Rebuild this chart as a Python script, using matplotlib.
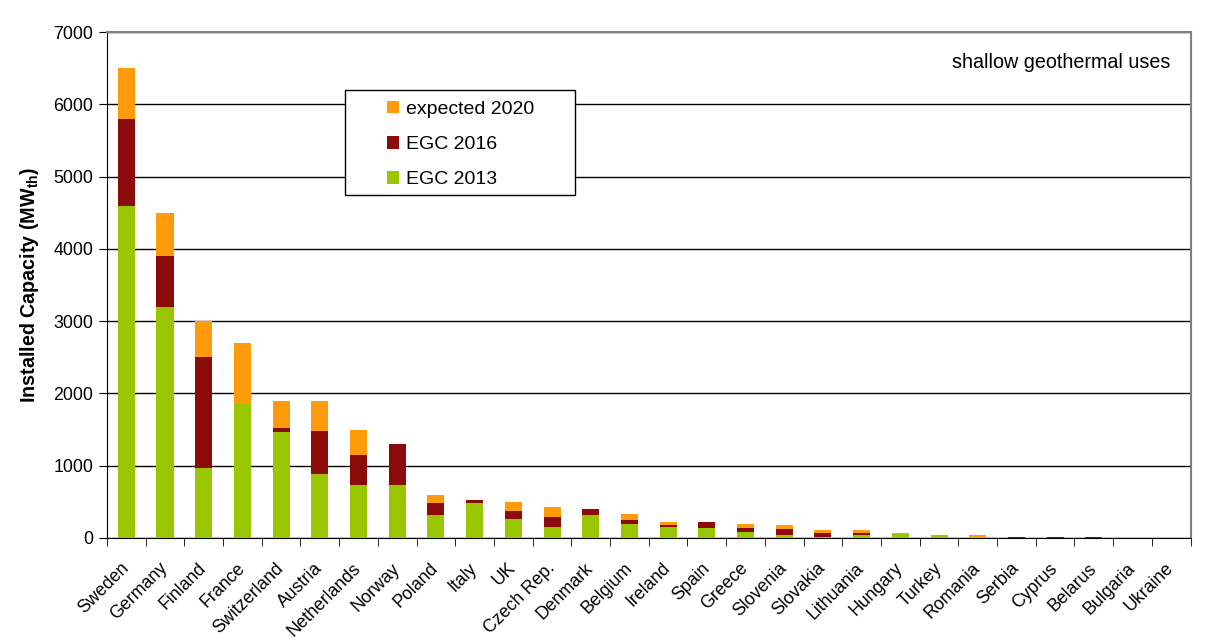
import matplotlib
matplotlib.use("Agg")
import matplotlib.pyplot as plt
from matplotlib.patches import Rectangle
import numpy as np

plt.rcParams['font.family'] = ['Liberation Sans', 'DejaVu Sans']

countries = ["Sweden", "Germany", "Finland", "France", "Switzerland", "Austria",
             "Netherlands", "Norway", "Poland", "Italy", "UK", "Czech Rep.",
             "Denmark", "Belgium", "Ireland", "Spain", "Greece", "Slovenia",
             "Slovakia", "Lithuania", "Hungary", "Turkey", "Romania", "Serbia",
             "Cyprus", "Belarus", "Bulgaria", "Ukraine"]
# cumulative totals
egc2013 = [4600, 3200, 965, 1850, 1470, 885, 735, 740, 318, 489, 258, 157,
           318, 194, 152, 138, 83, 41, 14, 41, 55, 45, 5, 5, 3, 3, 2, 1]
egc2016_total = [5800, 3900, 2500, 1850, 1521, 1480, 1150, 1300, 484, 526, 373, 295,
                 401, 249, 180, 221, 138, 124, 69, 69, 55, 45, 5, 18, 16, 16, 3, 1]
expected2020_total = [6500, 4500, 3000, 2700, 1900, 1900, 1500, 1300, 595, 526, 498, 429,
                      401, 336, 221, 221, 194, 180, 110, 110, 69, 45, 42, 18, 16, 16, 3, 1]

c2013 = np.array(egc2013)
d2016 = np.array(egc2016_total) - c2013
d2020 = np.array(expected2020_total) - np.array(egc2016_total)

fig = plt.figure(figsize=(12.21, 6.41), dpi=100)
ax = fig.add_axes([0.0876, 0.1607, 0.8875, 0.7893])

x = np.arange(len(countries))
w = 0.44
green = "#99C600"
dark = "#8B0A0A"
orange = "#FF9A0A"
b1 = ax.bar(x, c2013, w, color=green, label="EGC 2013", zorder=3)
b2 = ax.bar(x, d2016, w, bottom=c2013, color=dark, label="EGC 2016", zorder=3)
b3 = ax.bar(x, d2020, w, bottom=np.array(egc2016_total), color=orange,
            label="expected 2020", zorder=3)

ax.set_xlim(-0.5, len(countries) - 0.5)
ax.set_ylim(0, 7000)
ax.set_yticks(np.arange(0, 7001, 1000))
ax.yaxis.grid(True, color="black", linewidth=1.0, zorder=0)
ax.set_axisbelow(True)

ax.set_xticks(x)
ax.set_xticklabels(countries, rotation=45, ha="right", va="center",
                   rotation_mode="anchor", fontsize=12.8)
ax.tick_params(axis="x", length=0, pad=20)
ax.set_xticks(np.arange(-0.5, len(countries), 1), minor=True)
ax.tick_params(axis="x", which="minor", length=6, direction="out", color="black")
ax.tick_params(axis="y", length=6, direction="out", labelsize=12.8, color="black",
               pad=4)

for s in ["top", "right"]:
    ax.spines[s].set_color("#808080")
    ax.spines[s].set_linewidth(1.5)
ax.spines["left"].set_color("black")
ax.spines["bottom"].set_color("black")

ax.set_ylabel("Installed Capacity (MW$_{\\mathregular{th}}$)", fontsize=14.2,
              fontweight="bold")
ax.yaxis.set_label_coords(-0.061, 0.50)

ax.text(0.981, 0.940, "shallow geothermal uses", transform=ax.transAxes,
        ha="right", va="center", fontsize=14.2)

# legend box
box = Rectangle((0.2196, 0.678), 0.2124, 0.207, transform=ax.transAxes,
                facecolor="white", edgecolor="black", linewidth=1.0, zorder=4)
ax.add_patch(box)
leg = ax.legend(handles=[b3, b2, b1], loc="upper left",
                bbox_to_anchor=(0.2584, 0.864), fontsize=14, frameon=False,
                handlelength=0.62, handleheight=0.62, labelspacing=0.93,
                borderpad=0, handletextpad=0.35, borderaxespad=0)
leg.set_zorder(5)

fig.savefig("out.png", dpi=100)
